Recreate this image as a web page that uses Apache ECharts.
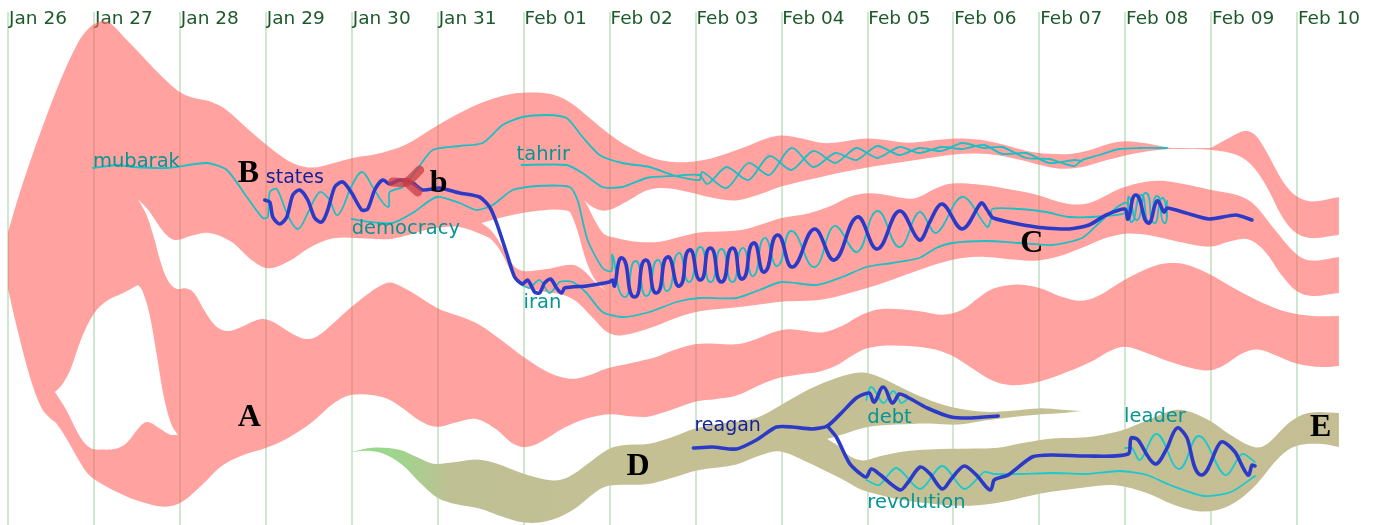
<!DOCTYPE html>
<html><head><meta charset="utf-8"><style>html,body{margin:0;padding:0;background:#fff}#c{width:1378px;height:525px}</style>
<script src="https://cdn.jsdelivr.net/npm/echarts@6/dist/echarts.min.js"></script></head><body><div id="c"></div>
<script>
// Timeline: 86 x-units per day, Jan 26 at unit 0 (the readings below are offset by X_ORIGIN).
const X_ORIGIN = 8, DAY = 86;
const dayLabels = ['Jan 26','Jan 27','Jan 28','Jan 29','Jan 30','Jan 31','Feb 01','Feb 02','Feb 03','Feb 04','Feb 05','Feb 06','Feb 07','Feb 08','Feb 09','Feb 10'];

// ---- pink stream outline, edge by edge (corners between edges stay sharp)
const pinkTop = [[8,232],[20,190],[40,133],[60,80],[77,42],[88,28],[97,22],[105,20],[113,24],[125,39],[140,53],[157,72],[177,92],[193,99],[210,100],[227,108],[250,132],[273,150],[293,165],[313,170],[333,163],[353,157],[377,155],[407,147],[433,127],[460,113],[480,103],[503,95],[523,92],[550,92],[570,100],[590,118],[610,135],[630,148],[653,160],[677,163],[700,162],[723,155],[747,147],[767,138],[782,134],[803,138],[823,145],[843,142],[867,137],[890,140],[910,145],[940,139],[963,138],[987,140],[1007,145],[1027,152],[1050,154],[1073,155],[1093,150],[1110,143],[1127,140],[1147,143],[1168,148],[1177,148],[1207,148],[1213,148],[1227,140],[1245,128],[1257,133],[1267,150],[1283,183],[1297,198],[1313,204],[1340,197]];
const pinkEnd1 = [[1340,197],[1340,235]];
const pinkUnder1 = [[1340,235],[1313,240],[1297,235],[1283,220],[1267,183],[1253,163],[1237,153],[1213,149],[1177,149],[1168,149],[1147,151],[1127,155],[1107,160],[1087,167],[1067,170],[1047,167],[1023,160],[1000,155],[977,153],[953,154],[920,160],[860,168],[823,177],[782,185],[760,195],[737,203],[713,198],[690,192],[667,187],[647,188],[627,202],[607,214],[590,208],[577,190],[567,179]];
const pinkMidTop = [[567,179],[578,190],[587,203],[597,223],[603,237],[617,237],[637,243],[660,243],[680,237],[700,231],[727,232],[747,230],[767,223],[782,217],[810,214],[830,208],[850,195],[870,192],[890,195],[910,200],[920,198],[937,187],[953,182],[977,184],[1003,188],[1037,193],[1060,203],[1080,206],[1097,202],[1120,187],[1147,181],[1168,180],[1190,185],[1210,190],[1240,194],[1257,203],[1273,227],[1297,257],[1313,263],[1340,257]];
const pinkEnd2 = [[1340,257],[1340,293]];
const pinkMidUnder = [[1340,293],[1313,298],[1297,293],[1283,277],[1267,250],[1250,236],[1233,240],[1212,250],[1187,243],[1153,235],[1127,232],[1107,237],[1083,248],[1060,257],[1037,262],[1017,260],[987,256],[963,257],[940,263],[920,270],[893,280],[867,288],[823,303],[782,300],[760,305],[733,308],[700,310],[677,317],[653,328],[623,337],[607,335],[593,317],[577,300],[563,293],[543,292],[523,288],[513,277],[503,253],[493,238],[482,235],[460,224],[433,227],[393,242],[367,238],[333,235],[307,248],[290,262],[268,273],[250,260],[233,240],[210,230],[190,235],[175,244],[163,233],[150,210],[138,199]];
const pinkLowTop = [[138,199],[148,215],[155,240],[160,262],[167,280],[175,292],[187,286],[195,292],[205,312],[215,328],[228,333],[240,328],[255,320],[265,318],[275,322],[290,333],[305,341],[318,338],[335,322],[351,307],[370,292],[385,283],[393,281],[413,292],[437,310],[460,316],[480,323],[503,341],[523,357],[547,373],[570,381],[587,377],[607,367],[633,363],[657,358],[673,350],[695,343],[717,343],[737,346],[753,341],[782,327],[803,330],[823,335],[843,327],[863,313],[883,307],[920,310],[943,317],[963,312],[980,297],[993,287],[1017,283],[1040,286],[1063,298],[1082,303],[1100,297],[1123,280],[1150,267],[1168,262],[1187,263],[1210,273],[1237,290],[1263,303],[1287,313],[1313,317],[1340,316]];
const pinkEnd3 = [[1340,316],[1340,366]];
const pinkBottom = [[1340,366],[1324,368],[1297,365],[1276,355],[1259,347],[1243,352],[1222,369],[1205,373],[1171,362],[1144,352],[1126,344],[1111,350],[1094,362],[1067,372],[1040,383],[1012,387],[992,382],[968,365],[952,354],[931,347],[894,345],[867,346],[850,357],[840,365],[820,373],[800,374],[780,377],[763,383],[737,398],[717,399],[695,400],[673,410],[650,418],[633,417],[610,412],[587,418],[563,427],[543,442],[527,449],[513,446],[497,428],[477,415],[457,422],[437,430],[420,422],[400,405],[383,395],[352,392],[333,402],[313,424],[287,439],[267,449],[240,455],[220,465],[203,485],[183,504],[165,509],[140,502],[120,494],[93,480],[83,469],[67,439],[57,422],[50,419],[40,409],[30,379],[17,329],[8,289]];
const pinkEnd4 = [[8,289],[8,232]];
// white enclosures inside the pink stream
const holeFarLeftA = [[55,392],[63,385],[72,369],[80,339],[93,312],[107,299],[123,294],[138,285]];
const holeFarLeftB = [[138,285],[143,289],[150,312],[157,355],[163,395],[170,425],[178,435]];
const holeFarLeftC = [[178,435],[170,436],[160,429],[148,419],[140,425],[128,444],[117,450],[103,449],[90,451],[80,439],[67,409],[55,392]];
const holeFebA = [[482,223],[503,217],[527,212],[550,209],[567,210],[572,212],[578,230],[585,257],[593,280],[607,291]];
const holeFebB = [[607,291],[597,285],[583,268],[572,262],[547,270],[523,273],[513,267],[503,247],[493,230],[482,223]];

// ---- olive stream outline
const oliveTop = [[352,452],[373,446],[400,448],[417,457],[433,466],[450,463],[477,457],[497,463],[523,474],[553,483],[570,478],[587,465],[607,448],[623,444],[650,446],[673,437],[695,428],[717,423],[757,422],[780,405],[807,390],[830,380],[850,374],[864,371],[880,376],[908,391],[931,401],[958,409],[985,413],[1012,411],[1040,407],[1063,410],[1083,411]];
const oliveDebtUnder = [[1083,411],[1067,413],[1040,414],[1006,418],[985,420],[965,425],[948,425],[931,423],[913,424],[880,425],[860,428],[843,435],[828,439]];
const oliveRevTop = [[828,439],[840,445],[850,458],[864,463],[880,455],[908,450],[952,448],[999,450],[1026,442],[1053,437],[1087,439],[1121,432],[1148,421],[1171,409],[1188,409],[1212,420],[1232,436],[1256,451],[1270,445],[1290,420],[1310,410],[1340,413]];
const oliveEnd = [[1340,413],[1340,447]];
const oliveBottom = [[1340,447],[1324,443],[1297,443],[1280,455],[1256,489],[1232,507],[1205,515],[1175,506],[1148,492],[1117,482],[1087,488],[1040,492],[1009,502],[979,506],[952,506],[904,502],[870,492],[860,490],[840,477],[820,468],[807,462],[780,447],[760,455],[737,468],[697,468],[673,478],[647,487],[610,483],[597,490],[573,513],[547,523],[523,524],[503,517],[480,507],[457,505],[437,500],[420,483],[403,463],[383,452],[367,450],[352,452]];

// ---- thin teal term lines
const mubarakTeal = [[93,168],[117,165],[133,167],[167,168],[207,163],[227,170],[247,197],[263,218],[268,217],[270,192],[277,189],[287,213],[298,229],[308,213],[320,192],[330,200],[338,215],[350,190],[362,172],[373,187],[388,207],[390,192],[403,187],[417,170],[433,150],[460,146],[483,143],[503,125],[523,117],[547,115],[567,118],[583,137],[600,155],[623,163],[650,167],[673,175],[700,180],[703,172],[727,188],[749,163],[770,175],[792,148],[814,167],[836,153],[857,160],[878,146],[900,155],[920,148],[942,151],[963,143],[985,148],[1003,147],[1027,158],[1050,159],[1075,166],[1083,160],[1100,155],[1120,149],[1140,148],[1168,148]];
const tahrirTeal = [[522,165],[567,165],[583,173],[603,187],[623,187],[647,178],[673,176],[700,175],[708,184],[727,167],[749,180],[770,156],[792,170],[814,151],[836,163],[857,148],[878,158],[900,147],[920,153],[942,147],[963,149],[985,145],[1003,154],[1027,153],[1050,163],[1075,160],[1083,161]];
const democracyTeal = [[352,219],[370,222],[393,223],[413,213],[437,197],[460,203],[477,210],[493,205],[513,190],[537,186],[570,187],[578,200],[588,240],[603,268],[612,271],[613,255],[625,297],[636,261],[647,296],[658,260],[668,291],[679,253],[690,282],[701,247],[711,282],[722,249],[733,282],[743,248],[754,276],[765,238],[778,266],[792,231],[815,267],[835,226],[858,252],[878,211],[900,247],[920,212],[937,233],[963,197],[988,227],[992,218],[993,209],[1020,209],[1047,212],[1070,217],[1107,216],[1128,212],[1130,197],[1138,220],[1147,193],[1155,223],[1163,198],[1168,217]];
const iranTeal = [[522,285],[530,288],[540,280],[550,293],[560,282],[573,282],[587,293],[603,312],[623,317],[650,312],[677,302],[700,298],[737,298],[760,290],[782,282],[817,285],[843,277],[867,267],[893,263],[920,258],[937,248],[953,243],[987,241],[1020,243],[1053,245],[1083,238],[1100,223],[1117,208],[1128,203],[1133,222],[1142,195],[1150,222],[1158,196],[1165,223],[1168,201]];
const debtTeal = [[867,400],[872,387],[884,403],[894,391],[902,403],[908,399]];
const revolutionTeal = [[867,480],[880,485],[897,468],[921,489],[943,466],[965,489],[985,472],[995,474],[1019,474],[1053,473],[1087,474],[1121,471],[1148,475],[1171,485],[1205,496],[1232,492],[1256,476]];
const leaderTeal = [[1126,448],[1133,448],[1141,460],[1158,434],[1180,469],[1200,436],[1226,475],[1243,454],[1256,462]];

// ---- thick blue term lines
const statesBlue = [[265,200],[270,202],[273,217],[280,224],[287,217],[293,195],[300,190],[308,200],[315,218],[322,222],[328,210],[335,187],[343,182],[352,193],[362,210],[368,209],[375,190],[383,180],[390,184],[400,180],[413,183],[423,190],[440,188],[460,193],[480,197],[490,207],[497,223],[507,253],[515,277],[523,284],[528,280],[535,292],[540,293],[545,283],[551,279],[557,288],[562,293],[565,288],[587,286],[610,282],[613,280],[615,286],[623,258],[635,297],[646,260],[657,293],[668,257],[680,286],[690,250],[701,280],[711,248],[722,282],[733,248],[743,279],[754,243],[765,272],[778,235],[793,267],[815,229],[835,260],[858,217],[878,249],[900,211],[920,240],[930,223],[943,204],[963,229],[982,203],[988,210],[994,218],[1037,227],[1070,229],[1090,225],[1107,215],[1126,209],[1129,219],[1137,195],[1149,223],[1158,201],[1165,212],[1168,208],[1187,213],[1210,219],[1237,215],[1253,220]];
const reaganBlue = [[694,448],[713,447],[737,449],[757,440],[777,427],[793,427],[813,429],[828,426],[843,412],[857,398],[870,393],[875,402],[884,387],[893,403],[900,394],[908,397],[928,408],[952,417],[972,418],[999,416]];
const revolutionBlue = [[828,426],[837,437],[850,463],[860,473],[867,477],[872,469],[880,474],[901,490],[909,482],[921,467],[931,474],[943,489],[952,479],[965,466],[979,477],[991,490],[995,480],[1009,475],[1033,457],[1053,455],[1087,456],[1129,454],[1132,438],[1139,440],[1156,464],[1168,448],[1178,428],[1188,438],[1202,475],[1222,442],[1236,452],[1249,475],[1253,465],[1256,466]];
// ---- red mark where term lines fork
const markArmA = [[393,182],[407,182],[420,170]];
const markArmB = [[407,182],[418,192]];

// ---- text
const tealWords = [['mubarak',93,162],['democracy',352,229],['tahrir',517,155],['iran',524,303],['debt',868,418],['revolution',868,503],['leader',1125,417]];
const blueWords = [['states',266,178],['reagan',695,426]];
const letters = [['A',238,418],['B',238,174],['b',430,184],['C',1021,244],['D',627,467],['E',1311,428]];

const shift = p => [p[0] - X_ORIGIN, p[1]];
const flip = edges => edges.map(e => e.slice().reverse()).reverse();

// The outlines were read by eye: relax each point slightly towards its neighbours' chord to take out reading jitter.
function relax(c) {
  return c.map((p, i) => {
    if (i === 0 || i === c.length - 1) return p;
    const a = c[i - 1], b = c[i + 1];
    const la = Math.hypot(p[0] - a[0], p[1] - a[1]), lb = Math.hypot(b[0] - p[0], b[1] - p[1]);
    const t = la / ((la + lb) || 1);
    const q = [a[0] + (b[0] - a[0]) * t, a[1] + (b[1] - a[1]) * t];
    return [p[0] + (q[0] - p[0]) * 0.4, p[1] + (q[1] - p[1]) * 0.4];
  });
}
function curve(c, k) {
  let d = '';
  for (let i = 0; i < c.length - 1; i++) {
    const a = c[Math.max(i - 1, 0)], b = c[i], e = c[i + 1], f = c[Math.min(i + 2, c.length - 1)];
    const len = Math.hypot(e[0] - b[0], e[1] - b[1]);
    const la = Math.hypot(e[0] - a[0], e[1] - a[1]) || 1, lb = Math.hypot(f[0] - b[0], f[1] - b[1]) || 1;
    const c1 = [b[0] + (e[0] - a[0]) / la * len * k, b[1] + (e[1] - a[1]) / la * len * k];
    const c2 = [e[0] - (f[0] - b[0]) / lb * len * k, e[1] - (f[1] - b[1]) / lb * len * k];
    d += 'C' + [c1[0], c1[1], c2[0], c2[1], e[0], e[1]].map(n => n.toFixed(2)).join(' ');
  }
  return d;
}
const toPx = (pts, api) => pts.map(p => api.coord(shift(p)));
function contourPath(edges, api) {
  const s = api.coord(shift(edges[0][0]));
  return 'M' + s[0].toFixed(2) + ' ' + s[1].toFixed(2) + edges.map(e => curve(relax(toPx(e, api)), 0.34)).join('') + 'Z';
}
function streamSeries(name, contours, fill) {
  return {
    type: 'custom', name, coordinateSystem: 'cartesian2d', silent: true, z: 2, clip: false,
    data: contours.flat(1).flat(1).map(shift),
    renderItem(params, api) {
      if (params.dataIndex !== 0) return null;
      return { type: 'path', shape: { pathData: contours.map(c => contourPath(c, api)).join('') }, style: { fill } };
    }
  };
}
const pinkFill = 'rgba(255,100,97,0.6)';
const oliveFill = new echarts.graphic.LinearGradient(0, 0, 1, 0, [
  { offset: 0, color: 'rgb(150,218,140)' }, { offset: 0.04, color: 'rgb(155,215,140)' },
  { offset: 0.10, color: 'rgb(190,192,148)' }, { offset: 0.3, color: 'rgb(196,192,148)' }, { offset: 1, color: 'rgb(197,190,148)' }]);

const lineSeries = (name, data, color, width, z) => ({
  type: 'custom', name, coordinateSystem: 'cartesian2d', silent: true, z, clip: false,
  data: data.map(shift),
  renderItem(params, api) {
    if (params.dataIndex !== 0) return null;
    const c = toPx(data, api);
    return { type: 'path', shape: { pathData: 'M' + c[0][0].toFixed(2) + ' ' + c[0][1].toFixed(2) + curve(c, 0.22) },
      style: { fill: 'none', stroke: color, lineWidth: width, lineCap: 'round', lineJoin: 'round' } };
  }
});
const wordSeries = (name, words, color, font) => ({
  type: 'scatter', name, symbolSize: 0, silent: true, z: 6, itemStyle: { opacity: 1 },
  data: words.map(w => ({ name: w[0], value: shift([w[1], w[2]]) })),
  label: { show: true, position: 'right', distance: 0, formatter: '{b}', color, ...font }
});

const chart = echarts.init(document.getElementById('c'), null, { renderer: 'canvas' });
chart.setOption({
  animation: false, backgroundColor: '#fff',
  grid: { left: X_ORIGIN, top: 12, width: 85.93 * 16, height: 513, containLabel: false, outerBoundsMode: 'none' },
  xAxis: {
    type: 'value', position: 'top', min: 0, max: DAY * 16, interval: DAY,
    axisLine: { show: false }, axisTick: { show: false },
    splitLine: { show: true, lineStyle: { color: 'rgb(190,223,190)', width: 1.5 } },
    axisLabel: {
      inside: true, margin: -2, align: 'left', verticalAlign: 'top', padding: [0, 0, 0, 1], showMinLabel: true, showMaxLabel: false,
      color: '#1c5a2a', fontFamily: 'DejaVu Sans', fontSize: 18.5,
      formatter: v => dayLabels[v / DAY] || ''
    }
  },
  yAxis: { type: 'value', inverse: true, min: 12, max: 525, show: false, splitLine: { show: false } },
  series: [
    streamSeries('pink stream', [
      [pinkTop, pinkEnd1, pinkUnder1, pinkMidTop, pinkEnd2, pinkMidUnder, pinkLowTop, pinkEnd3, pinkBottom, pinkEnd4],
      flip([holeFarLeftA, holeFarLeftB, holeFarLeftC]), flip([holeFebA, holeFebB])], pinkFill),
    streamSeries('olive stream', [[oliveTop, oliveDebtUnder, oliveRevTop, oliveEnd, oliveBottom]], oliveFill),
    wordSeries('teal words', tealWords, '#069595', { fontFamily: 'DejaVu Sans', fontSize: 19.5 }),
    wordSeries('blue words', blueWords, '#14209a', { fontFamily: 'DejaVu Sans', fontSize: 19 }),
    lineSeries('mubarak', mubarakTeal, '#1dbfc4', 1.8, 3),
    lineSeries('tahrir', tahrirTeal, '#1dbfc4', 1.8, 3),
    lineSeries('democracy', democracyTeal, '#1dbfc4', 1.8, 3),
    lineSeries('iran', iranTeal, '#1dbfc4', 1.8, 3),
    lineSeries('debt', debtTeal, '#1dc8cc', 1.8, 3),
    lineSeries('revolution', revolutionTeal, '#1dc8cc', 1.8, 3),
    lineSeries('leader', leaderTeal, '#1dc8cc', 1.8, 3),
    lineSeries('states', statesBlue, '#2c3ac8', 3.6, 4),
    lineSeries('reagan', reaganBlue, '#2c3ac8', 3.6, 4),
    lineSeries('revolution blue', revolutionBlue, '#2c3ac8', 3.6, 4),
    lineSeries('fork a', markArmA, 'rgba(200,60,70,0.75)', 9, 5),
    lineSeries('fork b', markArmB, 'rgba(200,60,70,0.75)', 9, 5),
    wordSeries('letters', letters, '#000', { fontFamily: 'Liberation Serif', fontWeight: 'bold', fontSize: 32 })
  ]
});
</script></body></html>
